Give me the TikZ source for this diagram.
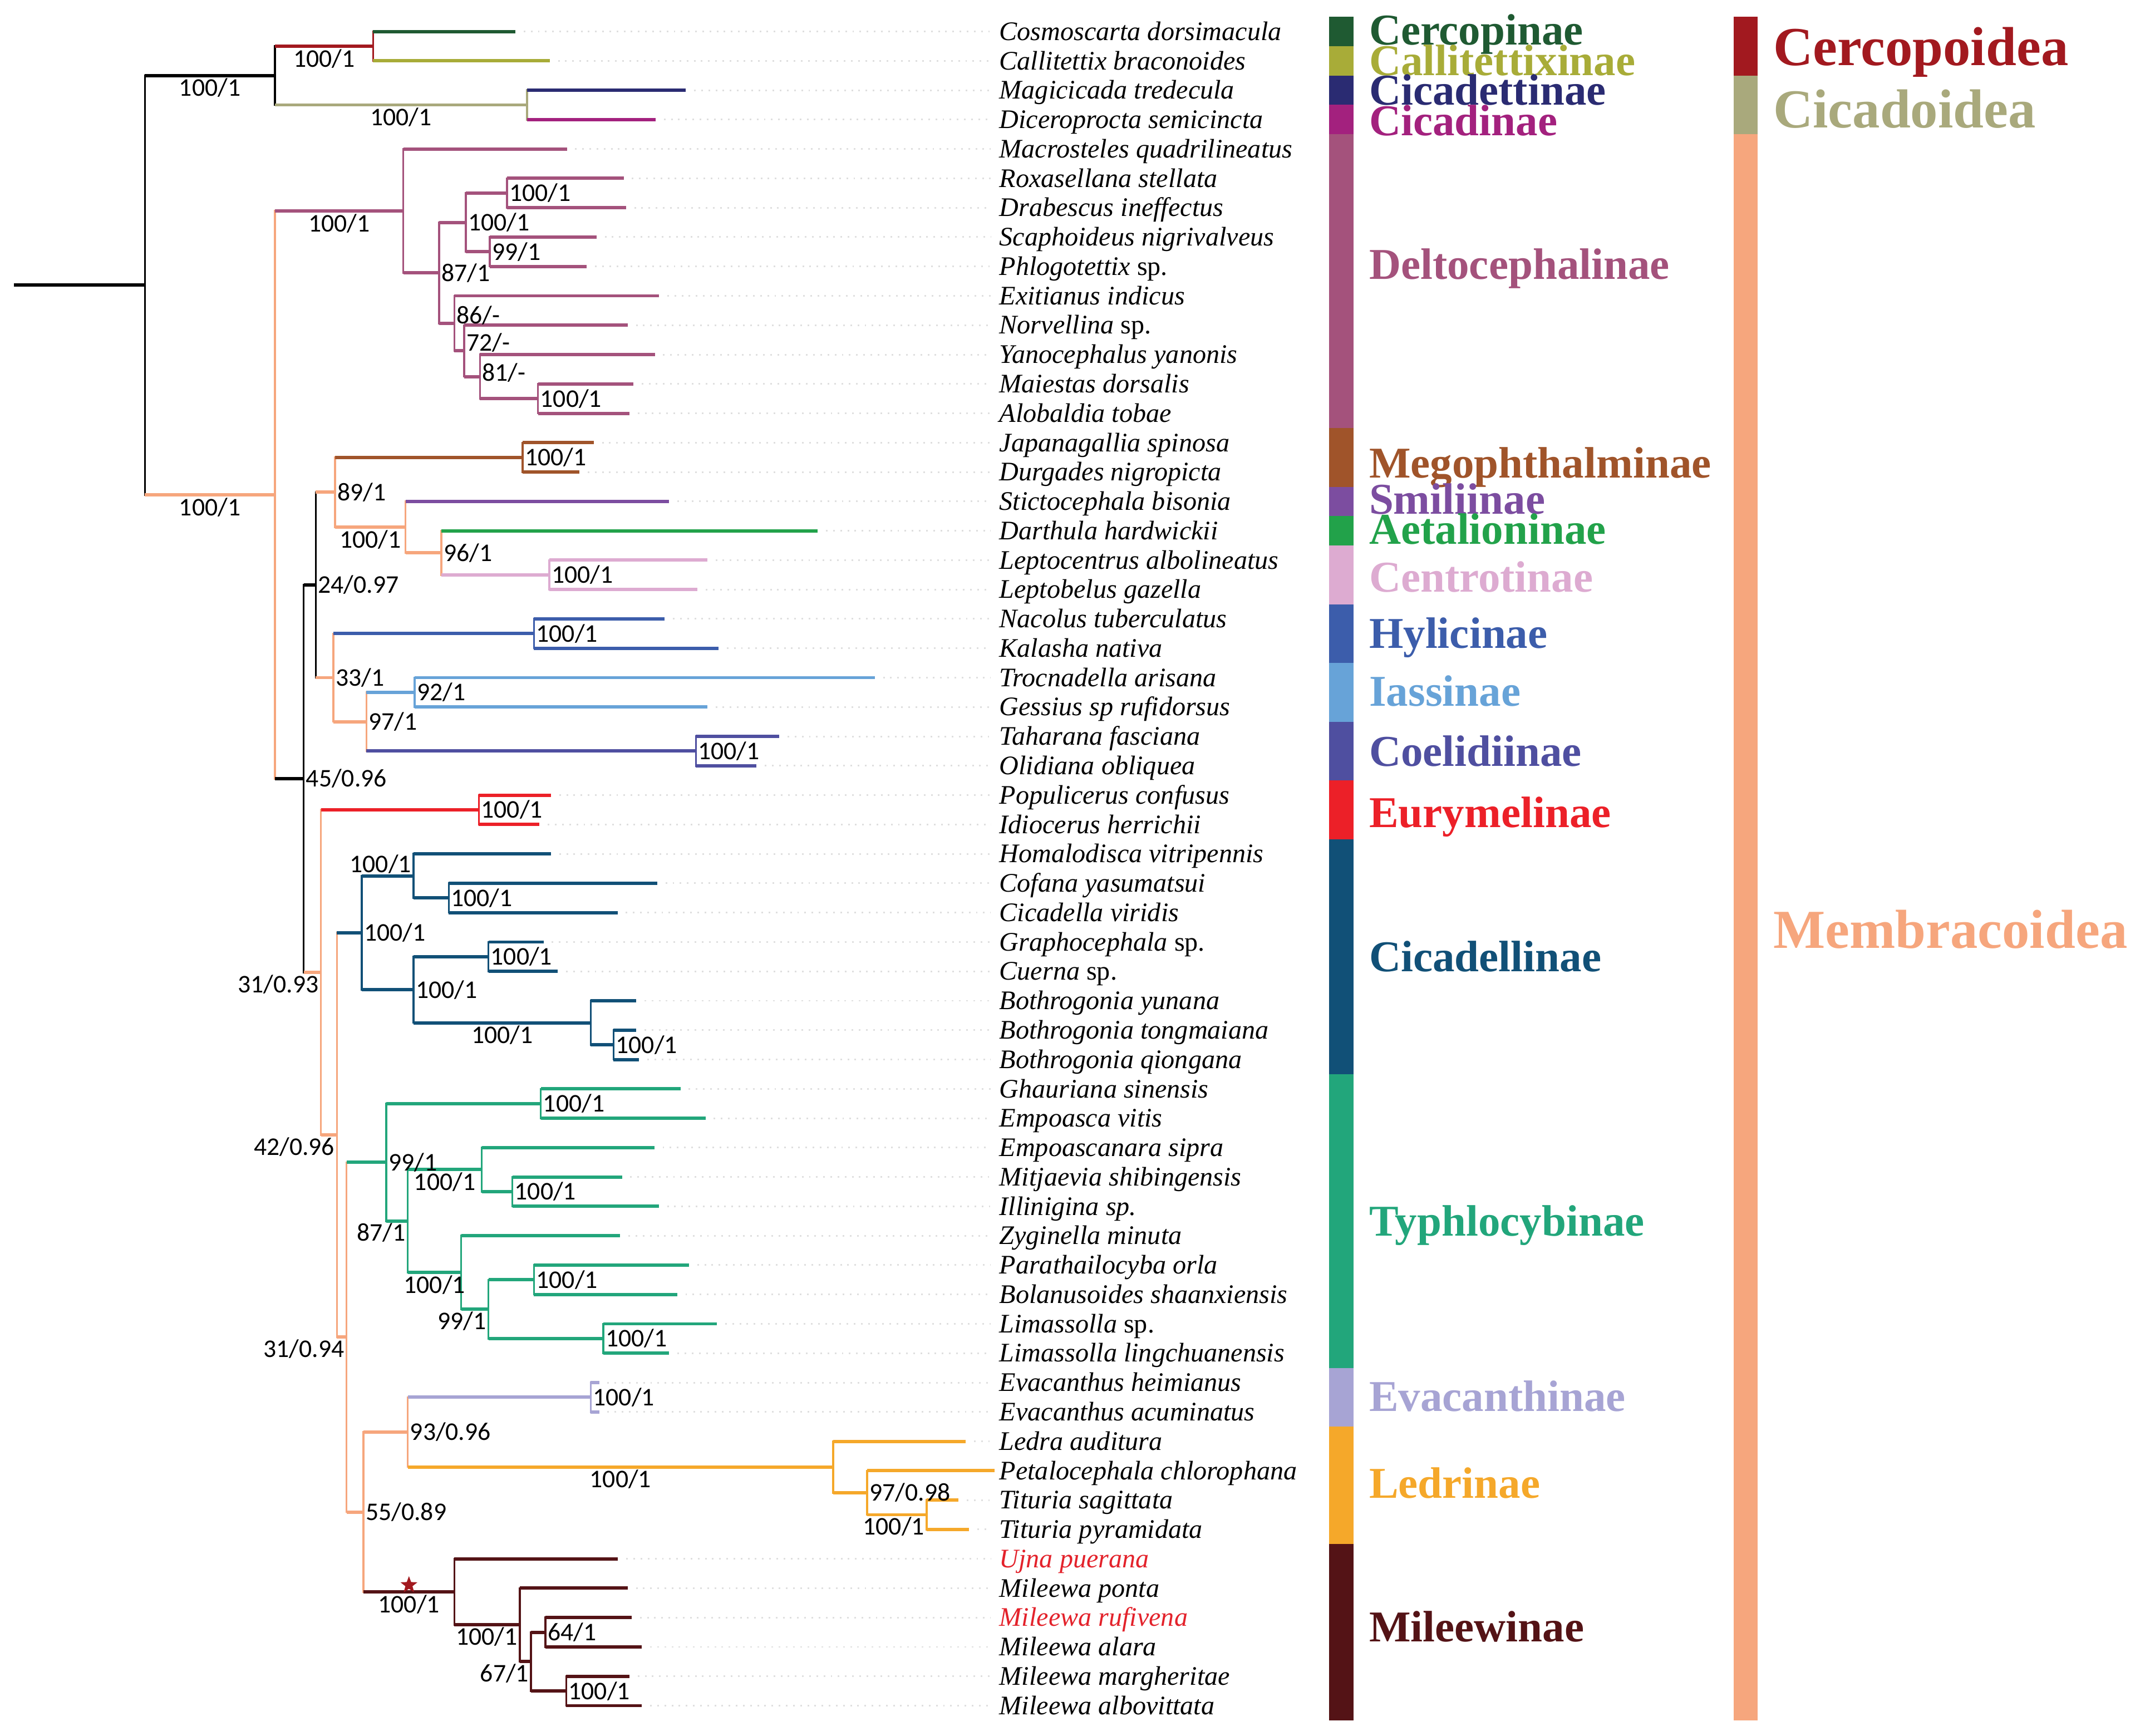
\documentclass[tikz,border=0pt]{standalone}
\usepackage{fontspec}
\setmainfont{Liberation Serif}
\newfontfamily\lblfont{Carlito}
\usetikzlibrary{calc,shapes.geometric}

\definecolor{cercopin}{HTML}{1F5A32}
\definecolor{callitet}{HTML}{A8AC38}
\definecolor{cicadet}{HTML}{2A2B72}
\definecolor{cicadin}{HTML}{A3217E}
\definecolor{delto}{HTML}{A4527C}
\definecolor{megoph}{HTML}{A0542A}
\definecolor{smili}{HTML}{7C4DA0}
\definecolor{aetal}{HTML}{22A24A}
\definecolor{centro}{HTML}{DDABD1}
\definecolor{hylic}{HTML}{3C5DAB}
\definecolor{iassin}{HTML}{67A3D8}
\definecolor{coelid}{HTML}{4F4FA0}
\definecolor{euryme}{HTML}{EC2028}
\definecolor{cicadel}{HTML}{115077}
\definecolor{typhlo}{HTML}{22A67B}
\definecolor{evacan}{HTML}{A7A4D4}
\definecolor{ledrin}{HTML}{F5A82A}
\definecolor{mileew}{HTML}{541316}
\definecolor{cercopoid}{HTML}{A2191F}
\definecolor{cicadoid}{HTML}{A9A97C}
\definecolor{membrac}{HTML}{F6A67D}
\definecolor{redname}{HTML}{E3222B}

\newcommand{\ly}[1]{22.9+21.37*(#1)}
\newcommand{\clade}[6]{%
  \draw[vb,#4] (#1 |- #2) -- (#1 |- #3);
  \draw[hb,#5] (#1 |- #2) -- (#2);
  \draw[hb,#6] (#1 |- #3) -- (#3);}

\begin{document}
\begin{tikzpicture}[x=1pt, y=-1pt,
    hb/.style={line width=2.4pt},
    vb/.style={line width=1.4pt, line cap=rect},
    dots/.style={gray!25, line width=1.2pt, dash pattern=on 1.2pt off 4pt, shorten <=6pt},
    taxon/.style={anchor=west, inner xsep=6pt, inner ysep=0pt, text height=15.6pt, text depth=2.9pt,
      font=\fontsize{19.5}{20}\selectfont\itshape},
    bsv/.style={inner sep=1.5pt, font=\lblfont\fontsize{18.5}{18.5}\selectfont},
    bsright/.style={bsv, anchor=west},
    bsbelow/.style={bsv, anchor=north, inner sep=2pt},
    bsleft/.style={bsv, anchor=north east},
    bsabove/.style={bsv, anchor=south east},
    sub/.style={anchor=base west, inner sep=0pt, font=\fontsize{32}{32}\selectfont\bfseries},
    supfam/.style={anchor=base west, inner sep=0pt, font=\fontsize{40}{40}\selectfont\bfseries}]
\useasboundingbox (0,0) rectangle (1568,1263);

\coordinate (e0) at (375,{\ly{0}}); \node[taxon] (t0) at (721,{\ly{0}}) {Cosmoscarta dorsimacula};
\coordinate (e1) at (400,{\ly{1}}); \node[taxon] (t1) at (721,{\ly{1}}) {Callitettix braconoides};
\coordinate (e2) at (499,{\ly{2}}); \node[taxon] (t2) at (721,{\ly{2}}) {Magicicada tredecula};
\coordinate (e3) at (477,{\ly{3}}); \node[taxon] (t3) at (721,{\ly{3}}) {Diceroprocta semicincta};
\coordinate (e4) at (412.5,{\ly{4}}); \node[taxon] (t4) at (721,{\ly{4}}) {Macrosteles quadrilineatus};
\coordinate (e5) at (453.8,{\ly{5}}); \node[taxon] (t5) at (721,{\ly{5}}) {Roxasellana stellata};
\coordinate (e6) at (455.5,{\ly{6}}); \node[taxon] (t6) at (721,{\ly{6}}) {Drabescus ineffectus};
\coordinate (e7) at (434,{\ly{7}}); \node[taxon] (t7) at (721,{\ly{7}}) {Scaphoideus nigrivalveus};
\coordinate (e8) at (427,{\ly{8}}); \node[taxon] (t8) at (721,{\ly{8}}) {Phlogotettix \textup{sp.}};
\coordinate (e9) at (479.5,{\ly{9}}); \node[taxon] (t9) at (721,{\ly{9}}) {Exitianus indicus};
\coordinate (e10) at (456.7,{\ly{10}}); \node[taxon] (t10) at (721,{\ly{10}}) {Norvellina \textup{sp.}};
\coordinate (e11) at (476.5,{\ly{11}}); \node[taxon] (t11) at (721,{\ly{11}}) {Yanocephalus yanonis};
\coordinate (e12) at (460.8,{\ly{12}}); \node[taxon] (t12) at (721,{\ly{12}}) {Maiestas dorsalis};
\coordinate (e13) at (458,{\ly{13}}); \node[taxon] (t13) at (721,{\ly{13}}) {Alobaldia tobae};
\coordinate (e14) at (432,{\ly{14}}); \node[taxon] (t14) at (721,{\ly{14}}) {Japanagallia spinosa};
\coordinate (e15) at (421.6,{\ly{15}}); \node[taxon] (t15) at (721,{\ly{15}}) {Durgades nigropicta};
\coordinate (e16) at (486.9,{\ly{16}}); \node[taxon] (t16) at (721,{\ly{16}}) {Stictocephala bisonia};
\coordinate (e17) at (595,{\ly{17}}); \node[taxon] (t17) at (721,{\ly{17}}) {Darthula hardwickii};
\coordinate (e18) at (514.6,{\ly{18}}); \node[taxon] (t18) at (721,{\ly{18}}) {Leptocentrus albolineatus};
\coordinate (e19) at (507.5,{\ly{19}}); \node[taxon] (t19) at (721,{\ly{19}}) {Leptobelus gazella};
\coordinate (e20) at (483.6,{\ly{20}}); \node[taxon] (t20) at (721,{\ly{20}}) {Nacolus tuberculatus};
\coordinate (e21) at (522.8,{\ly{21}}); \node[taxon] (t21) at (721,{\ly{21}}) {Kalasha nativa};
\coordinate (e22) at (636.5,{\ly{22}}); \node[taxon] (t22) at (721,{\ly{22}}) {Trocnadella arisana};
\coordinate (e23) at (514.6,{\ly{23}}); \node[taxon] (t23) at (721,{\ly{23}}) {Gessius sp rufidorsus};
\coordinate (e24) at (567,{\ly{24}}); \node[taxon] (t24) at (721,{\ly{24}}) {Taharana fasciana};
\coordinate (e25) at (550.5,{\ly{25}}); \node[taxon] (t25) at (721,{\ly{25}}) {Olidiana obliquea};
\coordinate (e26) at (400.9,{\ly{26}}); \node[taxon] (t26) at (721,{\ly{26}}) {Populicerus confusus};
\coordinate (e27) at (392.6,{\ly{27}}); \node[taxon] (t27) at (721,{\ly{27}}) {Idiocerus herrichii};
\coordinate (e28) at (400.9,{\ly{28}}); \node[taxon] (t28) at (721,{\ly{28}}) {Homalodisca vitripennis};
\coordinate (e29) at (478.2,{\ly{29}}); \node[taxon] (t29) at (721,{\ly{29}}) {Cofana yasumatsui};
\coordinate (e30) at (449.3,{\ly{30}}); \node[taxon] (t30) at (721,{\ly{30}}) {Cicadella viridis};
\coordinate (e31) at (395.5,{\ly{31}}); \node[taxon] (t31) at (721,{\ly{31}}) {Graphocephala \textup{sp.}};
\coordinate (e32) at (405.9,{\ly{32}}); \node[taxon] (t32) at (721,{\ly{32}}) {Cuerna \textup{sp.}};
\coordinate (e33) at (462.9,{\ly{33}}); \node[taxon] (t33) at (721,{\ly{33}}) {Bothrogonia yunana};
\coordinate (e34) at (462.9,{\ly{34}}); \node[taxon] (t34) at (721,{\ly{34}}) {Bothrogonia tongmaiana};
\coordinate (e35) at (465,{\ly{35}}); \node[taxon] (t35) at (721,{\ly{35}}) {Bothrogonia qiongana};
\coordinate (e36) at (495.1,{\ly{36}}); \node[taxon] (t36) at (721,{\ly{36}}) {Ghauriana sinensis};
\coordinate (e37) at (513.3,{\ly{37}}); \node[taxon] (t37) at (721,{\ly{37}}) {Empoasca vitis};
\coordinate (e38) at (476.1,{\ly{38}}); \node[taxon] (t38) at (721,{\ly{38}}) {Empoascanara sipra};
\coordinate (e39) at (452.6,{\ly{39}}); \node[taxon] (t39) at (721,{\ly{39}}) {Mitjaevia shibingensis};
\coordinate (e40) at (479.4,{\ly{40}}); \node[taxon] (t40) at (721,{\ly{40}}) {Illinigina sp.};
\coordinate (e41) at (451.3,{\ly{41}}); \node[taxon] (t41) at (721,{\ly{41}}) {Zyginella minuta};
\coordinate (e42) at (501.3,{\ly{42}}); \node[taxon] (t42) at (721,{\ly{42}}) {Parathailocyba orla};
\coordinate (e43) at (492.7,{\ly{43}}); \node[taxon] (t43) at (721,{\ly{43}}) {Bolanusoides shaanxiensis};
\coordinate (e44) at (521.6,{\ly{44}}); \node[taxon] (t44) at (721,{\ly{44}}) {Limassolla \textup{sp.}};
\coordinate (e45) at (486.9,{\ly{45}}); \node[taxon] (t45) at (721,{\ly{45}}) {Limassolla lingchuanensis};
\coordinate (e46) at (436,{\ly{46}}); \node[taxon] (t46) at (721,{\ly{46}}) {Evacanthus heimianus};
\coordinate (e47) at (436,{\ly{47}}); \node[taxon] (t47) at (721,{\ly{47}}) {Evacanthus acuminatus};
\coordinate (e48) at (702.6,{\ly{48}}); \node[taxon] (t48) at (721,{\ly{48}}) {Ledra auditura};
\coordinate (e49) at (723.8,{\ly{49}}); \node[taxon] (t49) at (721,{\ly{49}}) {Petalocephala chlorophana};
\coordinate (e50) at (697.4,{\ly{50}}); \node[taxon] (t50) at (721,{\ly{50}}) {Tituria sagittata};
\coordinate (e51) at (705,{\ly{51}}); \node[taxon] (t51) at (721,{\ly{51}}) {Tituria pyramidata};
\coordinate (e52) at (449.7,{\ly{52}}); \node[taxon, text=redname] (t52) at (721,{\ly{52}}) {Ujna puerana};
\coordinate (e53) at (456.7,{\ly{53}}); \node[taxon] (t53) at (721,{\ly{53}}) {Mileewa ponta};
\coordinate (e54) at (459.6,{\ly{54}}); \node[taxon, text=redname] (t54) at (721,{\ly{54}}) {Mileewa rufivena};
\coordinate (e55) at (467,{\ly{55}}); \node[taxon] (t55) at (721,{\ly{55}}) {Mileewa alara};
\coordinate (e56) at (458,{\ly{56}}); \node[taxon] (t56) at (721,{\ly{56}}) {Mileewa margheritae};
\coordinate (e57) at (467,{\ly{57}}); \node[taxon] (t57) at (721,{\ly{57}}) {Mileewa albovittata};

\draw[dots] (e0) -- (t0); \draw[dots] (e1) -- (t1); \draw[dots] (e2) -- (t2); \draw[dots] (e3) -- (t3);
\draw[dots] (e4) -- (t4); \draw[dots] (e5) -- (t5); \draw[dots] (e6) -- (t6); \draw[dots] (e7) -- (t7);
\draw[dots] (e8) -- (t8); \draw[dots] (e9) -- (t9); \draw[dots] (e10) -- (t10); \draw[dots] (e11) -- (t11);
\draw[dots] (e12) -- (t12); \draw[dots] (e13) -- (t13); \draw[dots] (e14) -- (t14); \draw[dots] (e15) -- (t15);
\draw[dots] (e16) -- (t16); \draw[dots] (e17) -- (t17); \draw[dots] (e18) -- (t18); \draw[dots] (e19) -- (t19);
\draw[dots] (e20) -- (t20); \draw[dots] (e21) -- (t21); \draw[dots] (e22) -- (t22); \draw[dots] (e23) -- (t23);
\draw[dots] (e24) -- (t24); \draw[dots] (e25) -- (t25); \draw[dots] (e26) -- (t26); \draw[dots] (e27) -- (t27);
\draw[dots] (e28) -- (t28); \draw[dots] (e29) -- (t29); \draw[dots] (e30) -- (t30); \draw[dots] (e31) -- (t31);
\draw[dots] (e32) -- (t32); \draw[dots] (e33) -- (t33); \draw[dots] (e34) -- (t34); \draw[dots] (e35) -- (t35);
\draw[dots] (e36) -- (t36); \draw[dots] (e37) -- (t37); \draw[dots] (e38) -- (t38); \draw[dots] (e39) -- (t39);
\draw[dots] (e40) -- (t40); \draw[dots] (e41) -- (t41); \draw[dots] (e42) -- (t42); \draw[dots] (e43) -- (t43);
\draw[dots] (e44) -- (t44); \draw[dots] (e45) -- (t45); \draw[dots] (e46) -- (t46); \draw[dots] (e47) -- (t47);
\draw[dots] (e48) -- (t48); \draw[dots] (e50) -- (t50); \draw[dots] (e51) -- (t51);
\draw[dots] (e52) -- (t52); \draw[dots] (e53) -- (t53); \draw[dots] (e54) -- (t54); \draw[dots] (e55) -- (t55);
\draw[dots] (e56) -- (t56); \draw[dots] (e57) -- (t57);

\coordinate (stem) at (10.3,{\ly{8.637}});
\coordinate (root) at (105.4,{\ly{8.637}});
\coordinate (top) at (200,{\ly{1.5}});
\coordinate (cerc) at (271.5,{\ly{0.5}});
\coordinate (cica) at (383.5,{\ly{2.5}});
\coordinate (memb) at (200,{\ly{15.7744}});
\coordinate (del0) at (293.4,{\ly{6.109375}});
\coordinate (del1) at (319.5,{\ly{8.21875}});
\coordinate (del2) at (339,{\ly{6.5}});
\coordinate (del2a) at (369,{\ly{5.5}});
\coordinate (del2b) at (356.3,{\ly{7.5}});
\coordinate (del3) at (330.6,{\ly{9.9375}});
\coordinate (del4) at (337.7,{\ly{10.875}});
\coordinate (del5) at (349.2,{\ly{11.75}});
\coordinate (del6) at (391.4,{\ly{12.5}});
\coordinate (m1) at (221,{\ly{25.4395}});
\coordinate (m2) at (229.8,{\ly{18.84375}});
\coordinate (mA) at (243.8,{\ly{15.6875}});
\coordinate (meg) at (380.2,{\ly{14.5}});
\coordinate (mB) at (295.1,{\ly{16.875}});
\coordinate (mC) at (321.1,{\ly{17.75}});
\coordinate (cen) at (399.7,{\ly{18.5}});
\coordinate (mE) at (242.6,{\ly{22}});
\coordinate (hyl) at (388.5,{\ly{20.5}});
\coordinate (mF) at (266.6,{\ly{23.5}});
\coordinate (ias) at (301.7,{\ly{22.5}});
\coordinate (coe) at (506.3,{\ly{24.5}});
\coordinate (m3) at (233.5,{\ly{32.035}});
\coordinate (eur) at (348.4,{\ly{26.5}});
\coordinate (mN) at (245.1,{\ly{37.570}});
\coordinate (cic0) at (263.3,{\ly{30.6875}});
\coordinate (cic1) at (300.9,{\ly{28.75}});
\coordinate (cic2) at (326.5,{\ly{29.5}});
\coordinate (cic3) at (300.9,{\ly{32.625}});
\coordinate (cic4) at (355.4,{\ly{31.5}});
\coordinate (cic5) at (429.8,{\ly{33.75}});
\coordinate (cic6) at (446.4,{\ly{34.5}});
\coordinate (mP) at (252.1,{\ly{44.453}});
\coordinate (typ0) at (281,{\ly{38.5}});
\coordinate (typ1) at (393.5,{\ly{36.5}});
\coordinate (typ2) at (296.7,{\ly{40.5}});
\coordinate (typ3) at (350.5,{\ly{38.75}});
\coordinate (typ4) at (372.8,{\ly{39.5}});
\coordinate (typ5) at (335.6,{\ly{42.25}});
\coordinate (typ6) at (355.4,{\ly{43.5}});
\coordinate (typ7) at (388.5,{\ly{42.5}});
\coordinate (typ8) at (438.9,{\ly{44.5}});
\coordinate (mQ) at (264.5,{\ly{50.40625}});
\coordinate (mR) at (296.7,{\ly{47.6875}});
\coordinate (eva) at (429.8,{\ly{46.5}});
\coordinate (led0) at (606.3,{\ly{48.875}});
\coordinate (led1) at (631,{\ly{49.75}});
\coordinate (led2) at (674.3,{\ly{50.5}});
\coordinate (mil0) at (330.6,{\ly{53.125}});
\coordinate (mil1) at (378.2,{\ly{54.25}});
\coordinate (mil2) at (386.4,{\ly{55.5}});
\coordinate (mil3) at (396.8,{\ly{54.5}});
\coordinate (mil4) at (412,{\ly{56.5}});

\draw[hb] (stem) -- (root);
\clade{root}{top}{memb}{black}{black}{membrac}
\clade{top}{cerc}{cica}{black}{cercopoid}{cicadoid}
\clade{cerc}{e0}{e1}{cercopoid}{cercopin}{callitet}
\clade{cica}{e2}{e3}{cicadoid}{cicadet}{cicadin}
\clade{memb}{del0}{m1}{membrac}{delto}{black}
\clade{del0}{e4}{del1}{delto}{delto}{delto}
\clade{del1}{del2}{del3}{delto}{delto}{delto}
\clade{del2}{del2a}{del2b}{delto}{delto}{delto}
\clade{del2a}{e5}{e6}{delto}{delto}{delto}
\clade{del2b}{e7}{e8}{delto}{delto}{delto}
\clade{del3}{e9}{del4}{delto}{delto}{delto}
\clade{del4}{e10}{del5}{delto}{delto}{delto}
\clade{del5}{e11}{del6}{delto}{delto}{delto}
\clade{del6}{e12}{e13}{delto}{delto}{delto}
\clade{m1}{m2}{m3}{black}{black}{membrac}
\clade{m2}{mA}{mE}{black}{membrac}{membrac}
\clade{mA}{meg}{mB}{membrac}{megoph}{membrac}
\clade{meg}{e14}{e15}{megoph}{megoph}{megoph}
\clade{mB}{e16}{mC}{membrac}{smili}{membrac}
\clade{mC}{e17}{cen}{membrac}{aetal}{centro}
\clade{cen}{e18}{e19}{centro}{centro}{centro}
\clade{mE}{hyl}{mF}{membrac}{hylic}{membrac}
\clade{hyl}{e20}{e21}{hylic}{hylic}{hylic}
\clade{mF}{ias}{coe}{membrac}{iassin}{coelid}
\clade{ias}{e22}{e23}{iassin}{iassin}{iassin}
\clade{coe}{e24}{e25}{coelid}{coelid}{coelid}
\clade{m3}{eur}{mN}{membrac}{euryme}{membrac}
\clade{eur}{e26}{e27}{euryme}{euryme}{euryme}
\clade{mN}{cic0}{mP}{membrac}{cicadel}{membrac}
\clade{cic0}{cic1}{cic3}{cicadel}{cicadel}{cicadel}
\clade{cic1}{e28}{cic2}{cicadel}{cicadel}{cicadel}
\clade{cic2}{e29}{e30}{cicadel}{cicadel}{cicadel}
\clade{cic3}{cic4}{cic5}{cicadel}{cicadel}{cicadel}
\clade{cic4}{e31}{e32}{cicadel}{cicadel}{cicadel}
\clade{cic5}{e33}{cic6}{cicadel}{cicadel}{cicadel}
\clade{cic6}{e34}{e35}{cicadel}{cicadel}{cicadel}
\clade{mP}{typ0}{mQ}{membrac}{typhlo}{membrac}
\clade{typ0}{typ1}{typ2}{typhlo}{typhlo}{typhlo}
\clade{typ1}{e36}{e37}{typhlo}{typhlo}{typhlo}
\clade{typ2}{typ3}{typ5}{typhlo}{typhlo}{typhlo}
\clade{typ3}{e38}{typ4}{typhlo}{typhlo}{typhlo}
\clade{typ4}{e39}{e40}{typhlo}{typhlo}{typhlo}
\clade{typ5}{e41}{typ6}{typhlo}{typhlo}{typhlo}
\clade{typ6}{typ7}{typ8}{typhlo}{typhlo}{typhlo}
\clade{typ7}{e42}{e43}{typhlo}{typhlo}{typhlo}
\clade{typ8}{e44}{e45}{typhlo}{typhlo}{typhlo}
\clade{mQ}{mR}{mil0}{membrac}{membrac}{mileew}
\clade{mR}{eva}{led0}{membrac}{evacan}{ledrin}
\clade{eva}{e46}{e47}{evacan}{evacan}{evacan}
\clade{led0}{e48}{led1}{ledrin}{ledrin}{ledrin}
\clade{led1}{e49}{led2}{ledrin}{ledrin}{ledrin}
\clade{led2}{e50}{e51}{ledrin}{ledrin}{ledrin}
\clade{mil0}{e52}{mil1}{mileew}{mileew}{mileew}
\clade{mil1}{e53}{mil2}{mileew}{mileew}{mileew}
\clade{mil2}{mil3}{mil4}{mileew}{mileew}{mileew}
\clade{mil3}{e54}{e55}{mileew}{mileew}{mileew}
\clade{mil4}{e56}{e57}{mileew}{mileew}{mileew}

\node[bsbelow] (bs1) at ($(root |- top)!.5!(top)$) {100/1};
\node[bsbelow] (bs2) at ($(root |- memb)!.5!(memb)$) {100/1};
\node[bsbelow] (bs3) at ($(top |- cerc)!.5!(cerc)$) {100/1};
\node[bsbelow] (bs4) at ($(top |- cica)!.5!(cica)$) {100/1};
\node[bsbelow] (bs5) at ($(memb |- del0)!.5!(del0)$) {100/1};
\node[bsright] (bs6) at (del2a) {100/1};
\node[bsright] (bs7) at (del2) {100/1};
\node[bsright] (bs8) at (del2b) {99/1};
\node[bsright] (bs9) at (del1) {87/1};
\node[bsright, yshift=6pt] (bs10) at (del3) {86/-};
\node[bsright, yshift=6pt] (bs11) at (del4) {72/-};
\node[bsright, yshift=3pt] (bs12) at (del5) {81/-};
\node[bsright] (bs13) at (del6) {100/1};
\node[bsright] (bs14) at (meg) {100/1};
\node[bsright] (bs15) at (mA) {89/1};
\node[bsbelow] (bs16) at ($(mA |- mB)!.5!(mB)$) {100/1};
\node[bsright] (bs17) at (mC) {96/1};
\node[bsright] (bs18) at (cen) {100/1};
\node[bsright] (bs19) at (m2) {24/0.97};
\node[bsright] (bs20) at (m1) {45/0.96};
\node[bsright] (bs21) at (mE) {33/1};
\node[bsright] (bs22) at (hyl) {100/1};
\node[bsright] (bs23) at (mF) {97/1};
\node[bsright] (bs24) at (ias) {92/1};
\node[bsright] (bs25) at (coe) {100/1};
\node[bsright] (bs26) at (eur) {100/1};
\node[bsleft] (bs27) at (m3) {31/0.93};
\node[bsleft] (bs28) at (mN) {42/0.96};
\node[bsright] (bs29) at (cic0) {100/1};
\node[bsabove] (bs30) at (cic1) {100/1};
\node[bsright] (bs31) at (cic2) {100/1};
\node[bsright] (bs32) at (cic3) {100/1};
\node[bsright] (bs33) at (cic4) {100/1};
\node[bsbelow] (bs34) at ($(cic3 |- cic5)!.5!(cic5)$) {100/1};
\node[bsright] (bs35) at (cic6) {100/1};
\node[bsleft] (bs36) at (mP) {31/0.94};
\node[bsright] (bs37) at (typ0) {99/1};
\node[bsright] (bs38) at (typ1) {100/1};
\node[bsleft] (bs39) at (typ2) {87/1};
\node[bsbelow] (bs40) at ($(typ2 |- typ3)!.5!(typ3)$) {100/1};
\node[bsright] (bs41) at (typ4) {100/1};
\node[bsbelow] (bs42) at ($(typ2 |- typ5)!.5!(typ5)$) {100/1};
\node[bsleft] (bs43) at (typ6) {99/1};
\node[bsright] (bs44) at (typ7) {100/1};
\node[bsright] (bs45) at (typ8) {100/1};
\node[bsright] (bs46) at (mQ) {55/0.89};
\node[bsright] (bs47) at (mR) {93/0.96};
\node[bsright] (bs48) at (eva) {100/1};
\node[bsbelow] (bs49) at ($(mR |- led0)!.5!(led0)$) {100/1};
\node[bsright] (bs50) at (led1) {97/0.98};
\node[bsleft] (bs51) at (led2) {100/1};
\node[bsbelow] (bs52) at ($(mQ |- mil0)!.5!(mil0)$) {100/1};
\node[bsleft] (bs53) at (mil1) {100/1};
\node[bsleft] (bs54) at (mil2) {67/1};
\node[bsright] (bs55) at (mil3) {64/1};
\node[bsright] (bs56) at (mil4) {100/1};
\node[star, star points=5, star point ratio=2.4, fill=cercopoid, inner sep=0pt, minimum size=13pt, anchor=south]
  (mark) at ($(mQ |- mil0)!.5!(mil0)+(0,-2)$) {};

\fill[cercopin] (967,{\ly{-0.5}}) rectangle (985,{\ly{0.5}});
\fill[callitet] (967,{\ly{0.5}}) rectangle (985,{\ly{1.5}});
\fill[cicadet] (967,{\ly{1.5}}) rectangle (985,{\ly{2.5}});
\fill[cicadin] (967,{\ly{2.5}}) rectangle (985,{\ly{3.5}});
\fill[delto] (967,{\ly{3.5}}) rectangle (985,{\ly{13.5}});
\fill[megoph] (967,{\ly{13.5}}) rectangle (985,{\ly{15.5}});
\fill[smili] (967,{\ly{15.5}}) rectangle (985,{\ly{16.5}});
\fill[aetal] (967,{\ly{16.5}}) rectangle (985,{\ly{17.5}});
\fill[centro] (967,{\ly{17.5}}) rectangle (985,{\ly{19.5}});
\fill[hylic] (967,{\ly{19.5}}) rectangle (985,{\ly{21.5}});
\fill[iassin] (967,{\ly{21.5}}) rectangle (985,{\ly{23.5}});
\fill[coelid] (967,{\ly{23.5}}) rectangle (985,{\ly{25.5}});
\fill[euryme] (967,{\ly{25.5}}) rectangle (985,{\ly{27.5}});
\fill[cicadel] (967,{\ly{27.5}}) rectangle (985,{\ly{35.5}});
\fill[typhlo] (967,{\ly{35.5}}) rectangle (985,{\ly{45.5}});
\fill[evacan] (967,{\ly{45.5}}) rectangle (985,{\ly{47.5}});
\fill[ledrin] (967,{\ly{47.5}}) rectangle (985,{\ly{51.5}});
\fill[mileew] (967,{\ly{51.5}}) rectangle (985,{\ly{57.5}});
\fill[cercopoid] (1261.6,{\ly{-0.5}}) rectangle (1279,{\ly{1.5}});
\fill[cicadoid] (1261.6,{\ly{1.5}}) rectangle (1279,{\ly{3.5}});
\fill[membrac] (1261.6,{\ly{3.5}}) rectangle (1279,{\ly{57.5}});

\node[sub, text=cercopin] (nCercopinae) at (996,32.5) {Cercopinae};
\node[sub, text=callitet] (nCallitettixinae) at (996,55) {Callitettixinae};
\node[sub, text=cicadet] (nCicadettinae) at (996,76.3) {Cicadettinae};
\node[sub, text=cicadin] (nCicadinae) at (996,98.8) {Cicadinae};
\node[sub, text=delto] (nDeltocephalinae) at (996,203) {Deltocephalinae};
\node[sub, text=megoph] (nMegophthalminae) at (996,347.5) {Megophthalminae};
\node[sub, text=smili] (nSmiliinae) at (996,374) {Smiliinae};
\node[sub, text=aetal] (nAetalioninae) at (996,396) {Aetalioninae};
\node[sub, text=centro] (nCentrotinae) at (996,430.7) {Centrotinae};
\node[sub, text=hylic] (nHylicinae) at (996,471.7) {Hylicinae};
\node[sub, text=iassin] (nIassinae) at (996,513.6) {Iassinae};
\node[sub, text=coelid] (nCoelidiinae) at (996,557.4) {Coelidiinae};
\node[sub, text=euryme] (nEurymelinae) at (996,601.9) {Eurymelinae};
\node[sub, text=cicadel] (nCicadellinae) at (996,706.7) {Cicadellinae};
\node[sub, text=typhlo] (nTyphlocybinae) at (996,899) {Typhlocybinae};
\node[sub, text=evacan] (nEvacanthinae) at (996,1026.6) {Evacanthinae};
\node[sub, text=ledrin] (nLedrinae) at (996,1090) {Ledrinae};
\node[sub, text=mileew] (nMileewinae) at (996,1194.3) {Mileewinae};
\node[supfam, text=cercopoid] (nCercopoidea) at (1290,47.5) {Cercopoidea};
\node[supfam, text=cicadoid] (nCicadoidea) at (1290,93) {Cicadoidea};
\node[supfam, text=membrac] (nMembracoidea) at (1290,690) {Membracoidea};
\end{tikzpicture}
\end{document}
